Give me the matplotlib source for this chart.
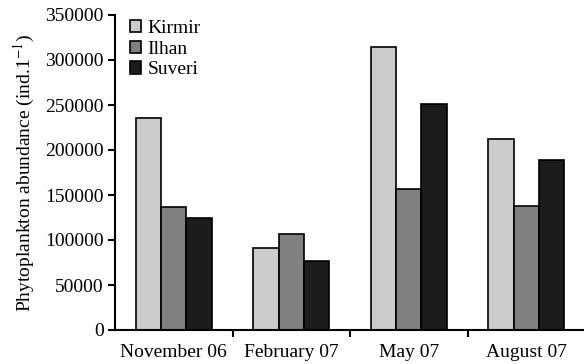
import matplotlib
matplotlib.use("Agg")
import matplotlib.pyplot as plt
import numpy as np

categories = ["November 06", "February 07", "May 07", "August 07"]
series_names = ["Kirmir", "Ilhan", "Suveri"]
kirmir = [235000, 91000, 315000, 212000]
ilhan = [137000, 107000, 157000, 138000]
suveri = [125000, 77000, 251000, 189000]
colors = ["#cccccc", "#808080", "#1c1c1c"]

plt.rcParams['font.family'] = ['Liberation Serif', 'DejaVu Serif']
plt.rcParams['mathtext.fontset'] = 'stix'

fig = plt.figure(figsize=(5.84, 3.64), dpi=100)
ax = fig.add_axes([115/584, 1 - 330/364, 470/584, 315/364])

x = np.arange(len(categories))
w = 0.217
for i, (vals, name, c) in enumerate(zip([kirmir, ilhan, suveri], series_names, colors)):
    ax.bar(x + (i - 1) * w, vals, w, color=c, edgecolor="black", linewidth=1.2, label=name)

ax.set_xlim(-0.5, 3.5)
ax.set_ylim(0, 350000)
ax.set_yticks(np.arange(0, 350001, 50000))
ax.set_yticklabels([str(v) for v in range(0, 350001, 50000)], fontsize=14)
ax.set_xticks(x)
ax.set_xticklabels(categories, fontsize=14)
ax.tick_params(axis='x', length=0, pad=10)
ax.set_xticks([0.5, 1.5, 2.5], minor=True)
ax.tick_params(axis='x', which='minor', length=5, width=1.5, direction='out')
ax.tick_params(axis='y', length=5, width=1.5, direction='out', pad=3)
for s in ["top", "right"]:
    ax.spines[s].set_visible(False)
for s in ["left", "bottom"]:
    ax.spines[s].set_linewidth(1.5)

ax.set_ylabel(r"Phytoplankton abundance (ind.1$^{-1}$)", fontsize=14, labelpad=6)

leg = ax.legend(loc="upper left", bbox_to_anchor=(0.015, 1.01), frameon=False, fontsize=14,
                handlelength=0.6, handleheight=0.6, handletextpad=0.3, labelspacing=0.2,
                borderaxespad=0)

fig.savefig("out.png", dpi=100)
